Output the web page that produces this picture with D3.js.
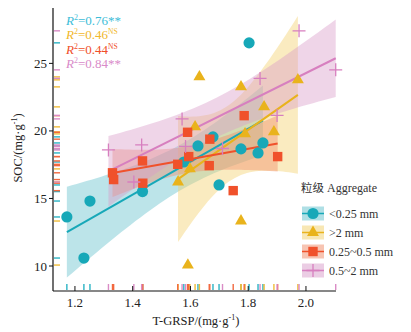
<!DOCTYPE html>
<html>
<head>
<meta charset="utf-8">
<script src="https://cdn.jsdelivr.net/npm/d3@7"></script>
<style>
body{margin:0;background:#fff}
text{font-family:"Liberation Serif","DejaVu Serif",serif}
</style>
</head>
<body>
<div id="chart"></div>
<script>
// <0.25 mm
var fineX = [1.172,1.231,1.252,1.434,1.577,1.626,1.678,1.699,1.775,1.834,1.851,1.803]
var fineY = [13.63,10.59,14.81,15.51,17.70,18.89,19.56,16.00,18.67,18.37,19.11,26.52]
// >2 mm
var largeX = [1.631,1.616,1.557,1.598,1.591,1.775,1.775,1.972,1.855,1.789,1.889]
var largeY = [24.00,20.30,16.22,17.19,10.07,13.33,23.26,23.78,21.78,19.78,19.93]
// 0.25~0.5 mm
var midX = [1.330,1.334,1.434,1.435,1.556,1.594,1.665,1.590,1.667,1.786,1.902,1.748]
var midY = [16.90,16.40,17.78,16.13,17.53,18.10,17.43,19.90,19.39,21.13,18.10,15.58]
// 0.5~2 mm
var coarseX = [1.316,1.431,1.404,1.571,1.583,1.711,1.841,1.900,1.976,2.103]
var coarseY = [18.59,18.96,16.22,20.89,18.85,18.70,23.89,21.15,27.41,24.52]

var groupNames = ["<0.25 mm", ">2 mm", "0.25~0.5 mm", "0.5~2 mm"]
var r2Values = ["0.76", "0.46", "0.44", "0.84"]
var r2Marks = ["**", "NS", "NS", "**"]
var xTicks = [1.2, 1.4, 1.6, 1.8, 2.0]
var yTicks = [10, 15, 20, 25]

var series = [
  {x: fineX, y: fineY, shape: "circle", color: "#17a8b8", band: "#5fbfcb", rug: "#2ab3c4", text: "#3dbdd8"},
  {x: largeX, y: largeY, shape: "triangle", color: "#e9b31c", band: "#f2cf6a", rug: "#efbc3a", text: "#f1b82c"},
  {x: midX, y: midY, shape: "square", color: "#f0512b", band: "#f08a66", rug: "#f2683f", text: "#f04f2a"},
  {x: coarseX, y: coarseY, shape: "cross", color: "#d77fbf", band: "#d89bc9", rug: "#da8cc6", text: "#d98bc9"}
]

// t critical values (95%, two sided) by degrees of freedom
var tCrit = {8: 2.306, 9: 2.262, 10: 2.228, 11: 2.201}

function fit(xs, ys) {
  var n = xs.length
  var mx = d3.mean(xs), my = d3.mean(ys)
  var sxx = d3.sum(xs, function(v){ return (v - mx) * (v - mx) })
  var sxy = d3.sum(xs, function(v, i){ return (v - mx) * (ys[i] - my) })
  var b = sxy / sxx, a = my - b * mx
  var sse = d3.sum(xs, function(v, i){ var r = ys[i] - (a + b * v); return r * r })
  var s = Math.sqrt(sse / (n - 2))
  var t = tCrit[n - 2]
  var lo = d3.min(xs), hi = d3.max(xs)
  var band = d3.range(0, 41).map(function(k){
    var xv = lo + (hi - lo) * k / 40
    var yv = a + b * xv
    var se = s * Math.sqrt(1 / n + (xv - mx) * (xv - mx) / sxx)
    return {x: xv, y0: yv - t * se, y1: yv + t * se}
  })
  return {a: a, b: b, lo: lo, hi: hi, band: band}
}

var svg = d3.select("#chart").append("svg")
  .attr("width", 411).attr("height", 332)

var X = d3.scaleLinear().domain([1.124, 2.104]).range([53, 336])
var Y = d3.scaleLinear().domain([8.15, 29.1]).range([291, 8])

var fits = series.map(function(s){ return fit(s.x, s.y) })

// confidence bands
var area = d3.area()
  .x(function(d){ return X(d.x) })
  .y0(function(d){ return Y(d.y0) })
  .y1(function(d){ return Y(d.y1) })
series.forEach(function(s, i){
  svg.append("path")
    .datum(fits[i].band)
    .attr("d", area)
    .attr("fill", s.band)
    .attr("fill-opacity", 0.42)
})

// fit lines
series.forEach(function(s, i){
  var f = fits[i]
  svg.append("line")
    .attr("x1", X(f.lo)).attr("y1", Y(f.a + f.b * f.lo))
    .attr("x2", X(f.hi)).attr("y2", Y(f.a + f.b * f.hi))
    .attr("stroke", s.color)
    .attr("stroke-width", 2)
})

function drawMarker(g, shape, color) {
  if (shape === "circle") {
    g.append("circle").attr("r", 5.6).attr("fill", color)
  } else if (shape === "triangle") {
    g.append("path").attr("d", d3.symbol(d3.symbolTriangle, 62)()).attr("fill", color)
  } else if (shape === "square") {
    g.append("rect").attr("x", -4.7).attr("y", -4.7).attr("width", 9.4).attr("height", 9.4).attr("fill", color)
  } else {
    g.append("path").attr("d", "M-6.5,0H6.5M0,-6.5V6.5").attr("stroke", color).attr("stroke-width", 1.3).attr("fill", "none")
  }
}

// points
series.forEach(function(s){
  s.x.forEach(function(xv, i){
    var g = svg.append("g").attr("transform", "translate(" + X(xv) + "," + Y(s.y[i]) + ")")
    drawMarker(g, s.shape, s.color)
  })
})

// rugs
series.forEach(function(s){
  s.x.forEach(function(xv){
    svg.append("line")
      .attr("x1", X(xv)).attr("x2", X(xv)).attr("y1", 284).attr("y2", 290)
      .attr("stroke", s.rug).attr("stroke-width", 1.4)
  })
  s.y.forEach(function(yv){
    svg.append("line")
      .attr("y1", Y(yv)).attr("y2", Y(yv)).attr("x1", 54).attr("x2", 60)
      .attr("stroke", s.rug).attr("stroke-width", 1.4)
  })
})

// axes
svg.append("line").attr("x1", 53).attr("x2", 53).attr("y1", 8).attr("y2", 291).attr("stroke", "#111").attr("stroke-width", 1.2)
svg.append("line").attr("x1", 53).attr("x2", 336).attr("y1", 291).attr("y2", 291).attr("stroke", "#111").attr("stroke-width", 1.2)

xTicks.forEach(function(v){
  svg.append("line").attr("x1", X(v)).attr("x2", X(v)).attr("y1", 291).attr("y2", 286).attr("stroke", "#111")
  svg.append("text").attr("x", X(v)).attr("y", 307).attr("text-anchor", "middle")
    .attr("font-size", 13).attr("fill", "#222").text(d3.format(".1f")(v))
})
yTicks.forEach(function(v){
  svg.append("line").attr("x1", 49).attr("x2", 53).attr("y1", Y(v)).attr("y2", Y(v)).attr("stroke", "#111")
  svg.append("text").attr("x", 47).attr("y", Y(v) + 4.5).attr("text-anchor", "end")
    .attr("font-size", 13).attr("fill", "#222").text(v)
})

var xt = svg.append("text").attr("x", 196).attr("y", 325).attr("text-anchor", "middle")
  .attr("font-size", 12.5).attr("fill", "#222")
xt.append("tspan").text("T-GRSP/(mg·g")
xt.append("tspan").attr("dy", -5).attr("font-size", 8).text("-1")
xt.append("tspan").attr("dy", 5).text(")")

var yt = svg.append("text").attr("transform", "translate(22,148) rotate(-90)").attr("text-anchor", "middle")
  .attr("font-size", 12.5).attr("fill", "#222")
yt.append("tspan").text("SOC/(mg·g")
yt.append("tspan").attr("dy", -5).attr("font-size", 8).text("-1")
yt.append("tspan").attr("dy", 5).text(")")

// R2 labels
series.forEach(function(s, i){
  var t = svg.append("text").attr("x", 66).attr("y", 25 + i * 14.3)
    .attr("font-size", 13).attr("fill", s.text)
  t.append("tspan").attr("font-style", "italic").text("R")
  t.append("tspan").attr("dy", -5).attr("font-size", 8).text("2")
  t.append("tspan").attr("dy", 5).text("=" + r2Values[i])
  if (r2Marks[i] === "NS") {
    t.append("tspan").attr("dy", -5).attr("font-size", 7.5).text("NS")
  } else {
    t.append("tspan").text(r2Marks[i])
  }
})

// legend
var lt = svg.append("text").attr("x", 301).attr("y", 192).attr("font-size", 12).attr("fill", "#333")
lt.append("tspan").attr("font-family", "'Noto Sans CJK SC'").attr("font-size", 11.5).text("粒级")
lt.append("tspan").attr("dx", 3).text("Aggregate")

series.forEach(function(s, i){
  var cy = 213.5 + i * 19
  var g = svg.append("g")
  g.append("rect").attr("x", 302).attr("y", cy - 7).attr("width", 22).attr("height", 14)
    .attr("fill", s.band).attr("fill-opacity", 0.5)
  g.append("line").attr("x1", 302).attr("x2", 324).attr("y1", cy).attr("y2", cy)
    .attr("stroke", s.color).attr("stroke-width", 1.5)
  var m = g.append("g").attr("transform", "translate(313," + cy + ")")
  drawMarker(m, s.shape, s.color)
  g.append("text").attr("x", 329).attr("y", cy + 4.5).attr("font-size", 12).attr("fill", "#333").text(groupNames[i])
})
</script>
</body>
</html>
